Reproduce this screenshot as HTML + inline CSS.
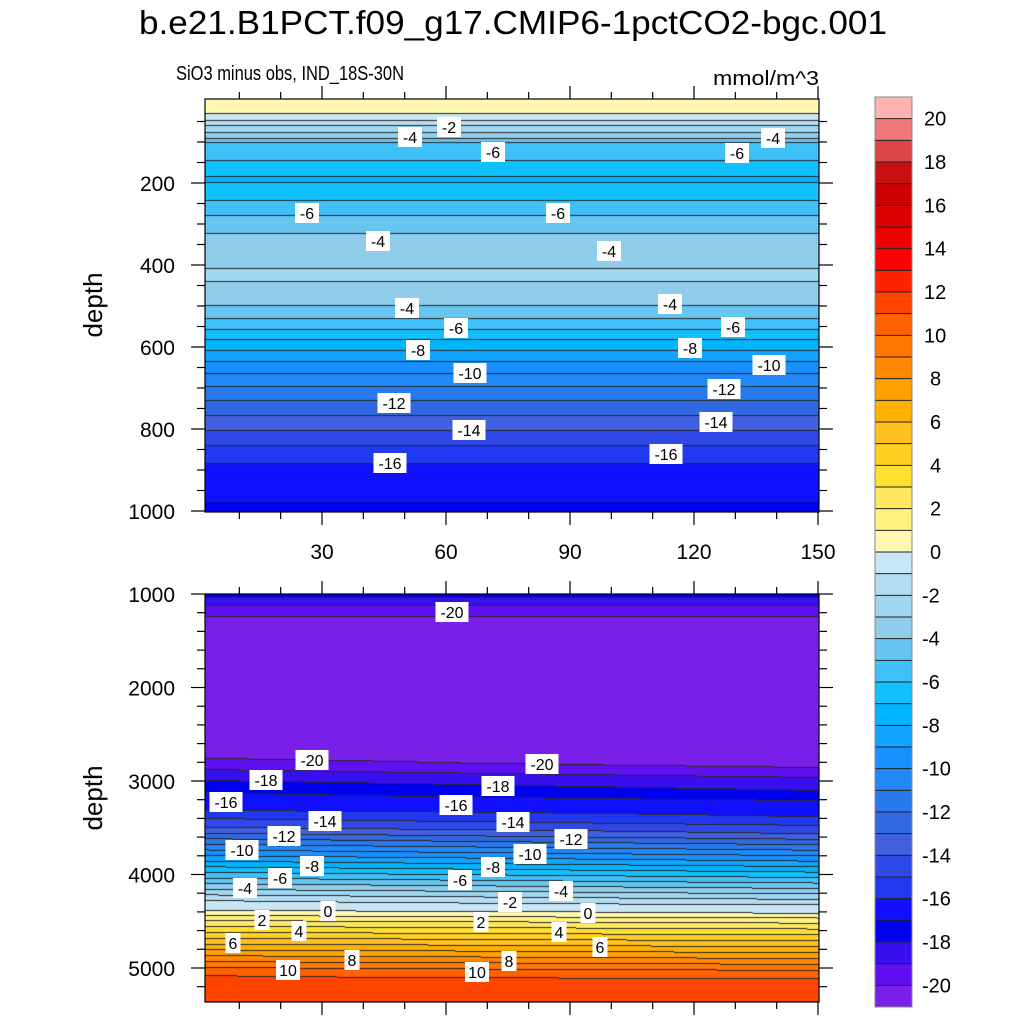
<!DOCTYPE html>
<html><head><meta charset="utf-8">
<style>
html,body{margin:0;padding:0;background:#fff;}
#wrap{position:relative;width:1024px;height:1024px;overflow:hidden;font-family:"Liberation Sans",Arial,sans-serif;}
canvas{position:absolute;left:0;top:0;}
svg{position:absolute;left:0;top:0;}
</style></head>
<body>
<div id="wrap">
<canvas id="cv" width="1024" height="1024"></canvas>
<svg id="sv" width="1024" height="1024" xmlns="http://www.w3.org/2000/svg"></svg>
</div>
<script>
// ---- data ----
const levelColors = ["#7820e8","#6010f0","#3810f0","#0000f0","#1010ff","#2038f0","#3048e8","#4060e0","#3068e0","#2878ee","#2088f8","#1890ff","#10a4ff","#00b4ff","#10c0ff","#40c0f8","#66c6f0","#90cdec","#a0d6ef","#b4dcf2","#c8e6f5",
"#fff8b0","#fff080","#ffe860","#ffe030","#ffd020","#ffc020","#ffb000","#ffa000","#ff8800","#ff7700","#ff6000","#ff4400","#ff2200","#ff0000","#ee0000","#dd0000","#cc0000","#c81010","#dd4444","#f07878","#ffb3b3"]; // -21..21
const cbTicks = [20,18,16,14,12,10,8,6,4,2,0,-2,-4,-6,-8,-10,-12,-14,-16,-18,-20];
const topDepths = [0,30,46,59,76,90,100,144,190,241,278,322,360,430,480,498,530,555,580,607,635,663,695,729,765,802,840,883,930,975,1000];
const topValues = [0.5,0,-1,-2,-3,-4,-5,-6,-7.2,-6,-5,-4,-3.2,-2.9,-3.5,-4,-5,-6,-7,-8,-9,-10,-11,-12,-13,-14,-15,-16,-16.6,-17,-17.6];
const botLeftDepths = [1000,1030,1120,1240,1350,2700,2754,2872,2989,3118,3310,3396,3492,4273,4380,4433,4487,4989,5075,5360];
const botLeftValues = [-17.5,-18,-19,-20,-20.6,-20.6,-20,-19,-18,-17,-16,-15,-14,-1,0,1,2,10,11,11.9];
const botRightDepths = [1000,1030,1120,1240,1350,2800,2850,2957,3096,3203,3380,3470,3560,4320,4412,4460,4515,5020,5107,5360];
const botRightValues = [-17.5,-18,-19,-20,-20.6,-20.6,-20,-19,-18,-17,-16,-15,-14,-1,0,1,2,10,11,11.9];
const xTickVals = [30,60,90,120,150];
const topYTicks = [200,400,600,800,1000];
const botYTicks = [1000,2000,3000,4000,5000];
const topLabels = [[449,127,"-2"],[410,137,"-4"],[493,152,"-6"],[773,138,"-4"],[737,153,"-6"],[307,213,"-6"],[558,213,"-6"],[378,241,"-4"],[609,251,"-4"],[407,308,"-4"],[670,304,"-4"],[456,328,"-6"],[733,327,"-6"],[418,350,"-8"],[690,348,"-8"],[470,373,"-10"],[769,365,"-10"],[394,403,"-12"],[724,389,"-12"],[469,430,"-14"],[716,422,"-14"],[390,463,"-16"],[666,454,"-16"]];
const botLabels = [[452,612,"-20"],[312,760,"-20"],[542,764,"-20"],[266,780,"-18"],[498,786,"-18"],[226,802,"-16"],[456,805,"-16"],[325,821,"-14"],[513,822,"-14"],[284,836,"-12"],[571,839,"-12"],[242,850,"-10"],[530,854,"-10"],[312,866,"-8"],[493,867,"-8"],[280,878,"-6"],[460,880,"-6"],[245,888,"-4"],[510,902,"-2"],[561,891,"-4"],[328,911,"0"],[588,913,"0"],[262,920,"2"],[481,922,"2"],[299,931,"4"],[559,932,"4"],[233,943,"6"],[600,947,"6"],[352,960,"8"],[509,961,"8"],[288,970,"10"],[477,972,"10"]];

// ---- geometry ----
const PX0=205, PX1=819;
const xPix = v => 198 + v*124/30;
const topY = d => 101 + d*0.41;
const topD = y => (y-101)/0.41;
const botY = d => 594 + (d-1000)*0.0935;
const botD = y => 1000 + (y-594)/0.0935;
const TOP0=99, TOP1=512, BOT0=594, BOT1=1002;
const CB_X=875, CB_W=37, CB_TOP=97, CB_BOX=910/42;
const cbY = v => CB_TOP + (21 - v)*CB_BOX;

function interp(ds, vs, d){
  if(d<=ds[0]) return vs[0];
  for(let i=1;i<ds.length;i++){ if(d<=ds[i]){const t=(d-ds[i-1])/(ds[i]-ds[i-1]); return vs[i-1]+t*(vs[i]-vs[i-1]);} }
  return vs[vs.length-1];
}
function hex(c){return [parseInt(c.substr(1,2),16),parseInt(c.substr(3,2),16),parseInt(c.substr(5,2),16)];}
const rgb = levelColors.map(hex);
function bin(v){let k=Math.floor(v)+21; return Math.max(0,Math.min(41,k));}

const cv=document.getElementById('cv'); const ctx=cv.getContext('2d');
const img=ctx.createImageData(1024,1024);
function paint(y0,y1,valFn){
  for(let x=PX0;x<PX1;x++){
    let prev=null;
    for(let y=y0;y<y1;y++){
      const v=valFn(x,y); const b=bin(v);
      let c=rgb[b];
      const idx=(y*1024+x)*4;
      if(prev!==null && b!==prev){ c=[40,40,40]; }
      img.data[idx]=c[0];img.data[idx+1]=c[1];img.data[idx+2]=c[2];img.data[idx+3]=255;
      prev=b;
    }
  }
}
paint(TOP0,TOP1,(x,y)=>interp(topDepths,topValues,topD(y+0.5)));
paint(BOT0,BOT1,(x,y)=>{const d=botD(y+0.5);const f=(x-PX0)/(PX1-PX0);return (1-f)*interp(botLeftDepths,botLeftValues,d)+f*interp(botRightDepths,botRightValues,d);});
// colorbar
for(let k=0;k<42;k++){
  const v=k-21; const yA=Math.round(cbY(v+1)), yB=Math.round(cbY(v));
  for(let y=yA;y<yB;y++) for(let x=CB_X;x<CB_X+CB_W;x++){const i=(y*1024+x)*4;const c=rgb[k];img.data[i]=c[0];img.data[i+1]=c[1];img.data[i+2]=c[2];img.data[i+3]=255;}
}
ctx.putImageData(img,0,0);

// ---- overlay ----
const NS="http://www.w3.org/2000/svg";
const sv=document.getElementById('sv');
function el(tag,attrs,parent){const e=document.createElementNS(NS,tag);for(const k in attrs)e.setAttribute(k,attrs[k]);(parent||sv).appendChild(e);return e;}
function txt(x,y,s,size,anchor,parent){const t=el('text',{x:x,y:y,'font-size':size,'text-anchor':anchor||'middle','font-family':'Liberation Sans, Arial, sans-serif',fill:'#000'},parent);t.textContent=s;return t;}

let t=txt(513,34,"b.e21.B1PCT.f09_g17.CMIP6-1pctCO2-bgc.001",33,'middle');
t.setAttribute('textLength','748');
t.setAttribute('lengthAdjust','spacingAndGlyphs');


t=txt(176,80,"SiO3 minus obs, IND_18S-30N",20,'start');
t.setAttribute('textLength','228');
t.setAttribute('lengthAdjust','spacingAndGlyphs');


t=txt(819,85,"mmol/m^3",20,'end');
t.setAttribute('textLength','106');
t.setAttribute('lengthAdjust','spacingAndGlyphs');



function frame(y0,y1,name){
  const r=el('rect',{x:PX0,y:y0,width:PX1-PX0,height:y1-y0,fill:'none',stroke:'#000','stroke-width':1.2});
  
  
}
frame(TOP0,TOP1,'top-panel-frame');
frame(BOT0,BOT1,'bottom-panel-frame');

// x ticks
const gx=el('g',{stroke:'#000','stroke-width':1.2});


for(let v=10;v<=150;v+=10){
  const x=xPix(v); const major=(v%30===0); const L=major?13:7;
  el('line',{x1:x,x2:x,y1:TOP0,y2:TOP0-L},gx);
  el('line',{x1:x,x2:x,y1:TOP1,y2:TOP1+L},gx);
  el('line',{x1:x,x2:x,y1:BOT0,y2:BOT0-L},gx);
  el('line',{x1:x,x2:x,y1:BOT1,y2:BOT1+L},gx);
}
xTickVals.forEach(v=>{const tt=txt(xPix(v),559,String(v),21,'middle');
  
  });

// y ticks
const gy=el('g',{stroke:'#000','stroke-width':1.2});


for(let d=50;d<=1000;d+=50){const y=topY(d);const major=d%200===0;const L=major?14:8;
  el('line',{x1:PX0,x2:PX0-L,y1:y,y2:y},gy);el('line',{x1:PX1,x2:PX1+L,y1:y,y2:y},gy);}
for(let d=1000;d<=5200;d+=200){const y=botY(d);const major=d%1000===0;const L=major?14:8;
  el('line',{x1:PX0,x2:PX0-L,y1:y,y2:y},gy);el('line',{x1:PX1,x2:PX1+L,y1:y,y2:y},gy);}
topYTicks.forEach(d=>{const tt=txt(175,topY(d)+8,String(d),21,'end');
  
  });
botYTicks.forEach(d=>{const tt=txt(175,botY(d)+8,String(d),21,'end');
  
  });
[[305,'top-y-axis-title'],[798,'bottom-y-axis-title']].forEach(([cy,n])=>{
  const tt=txt(0,0,"depth",26,'middle');tt.setAttribute('transform','translate(102,'+cy+') rotate(-90)');
  
  });

// contour labels
function clabel(p,n){
  const g=el('g',{});
  
  
  const w=p[2].length*9+6;
  el('rect',{x:p[0]-w/2,y:p[1]-10,width:w,height:20,fill:'#fff'},g);
  txt(p[0],p[1]+6,p[2],16,'middle',g);
}
topLabels.forEach(p=>clabel(p,'top-contour-label'));
botLabels.forEach(p=>clabel(p,'bottom-contour-label'));

// colorbar
const gc=el('g',{});


for(let v=-20;v<=20;v++){el('line',{x1:CB_X,x2:CB_X+CB_W,y1:cbY(v),y2:cbY(v),stroke:'#222','stroke-width':1},gc);}
el('rect',{x:CB_X,y:CB_TOP,width:CB_W,height:910,fill:'none',stroke:'#888','stroke-width':1},gc);
cbTicks.forEach(v=>{const tt=txt(v<0?922:(v>=10?924:930),cbY(v)+7,String(v),20,'start',gc);
  
  });
</script>
</body></html>
